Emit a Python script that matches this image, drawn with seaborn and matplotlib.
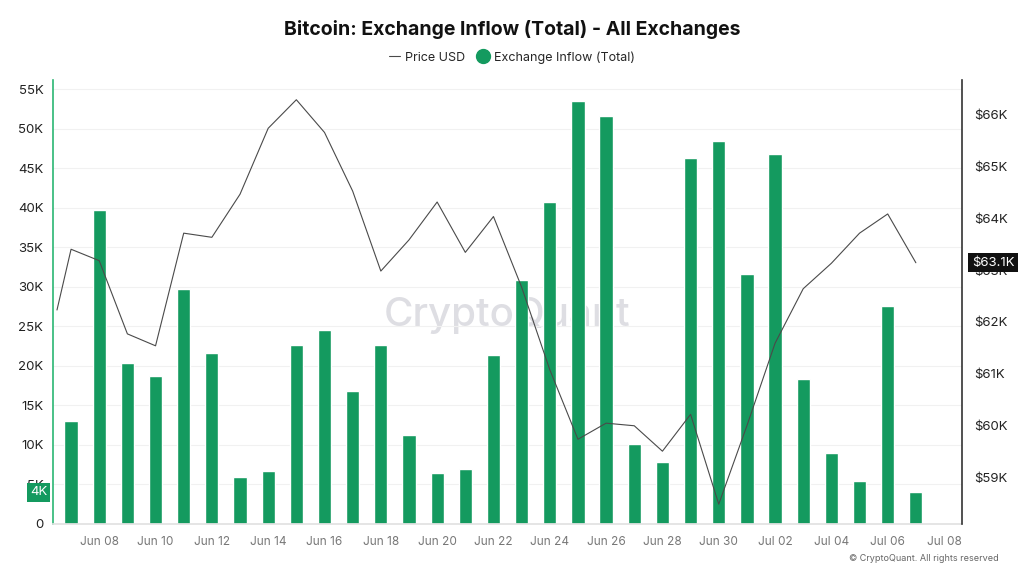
import pandas as pd
import matplotlib.pyplot as plt
from matplotlib.lines import Line2D
from matplotlib.ticker import FuncFormatter
import seaborn as sns

# days counted from Jun 07
days = list(range(31))
inflow_k = [13.0, 39.8, 20.4, 18.7, 29.8, 21.6, 6.0, 6.7, 22.6, 24.5,
            16.8, 22.6, 11.3, 6.5, 7.0, 21.4, 30.9, 40.8, 53.5, 51.6,
            10.1, 7.8, 46.3, 48.5, 31.6, 46.8, 18.4, 9.0, 5.5, 27.6, 4.0]
price_days = [-0.5] + days
price_k = [62.23, 63.40, 63.18, 61.77, 61.54, 63.71, 63.63, 64.46, 65.73, 66.28,
           65.65, 64.52, 62.98, 63.58, 64.31, 63.34, 64.03, 62.67, 61.08, 59.74,
           60.05, 60.00, 59.51, 60.22, 58.49, 60.00, 61.59, 62.64, 63.13, 63.71,
           64.08, 63.14]
tick_days = list(range(1, 32, 2))
tick_labels = ['Jun 08', 'Jun 10', 'Jun 12', 'Jun 14', 'Jun 16', 'Jun 18', 'Jun 20',
               'Jun 22', 'Jun 24', 'Jun 26', 'Jun 28', 'Jun 30', 'Jul 02', 'Jul 04',
               'Jul 06', 'Jul 08']

green = '#149a5f'
bars = pd.DataFrame({'day': days, 'inflow': [v * 1000 for v in inflow_k]})
price = pd.DataFrame({'day': price_days, 'price': [v * 1000 for v in price_k]})

sns.set_theme(style='white')
plt.rcParams['font.family'] = ['Inter', 'DejaVu Sans']

fig = plt.figure(figsize=(10.24, 5.76), dpi=100)
ax = fig.add_axes([0.0518, 0.0903, 0.8877, 0.7708])

sns.barplot(data=bars, x='day', y='inflow', native_scale=True, width=0.47,
            color=green, saturation=1, errorbar=None, ax=ax, zorder=2)
ax.set_ylim(0, 56200)
ax.set_yticks(range(0, 55001, 5000))
ax.yaxis.set_major_formatter(FuncFormatter(lambda v, p: '0' if v == 0 else f'{v/1000:.0f}K'))
ax.grid(axis='y', color='#f1f1f1', lw=0.8)
ax.set_axisbelow(True)
ax.set_xlabel('')
ax.set_ylabel('')
ax.tick_params(axis='y', length=0, pad=7, labelsize=9.5, labelcolor='#222222')
ax.tick_params(axis='x', length=3.5, width=0.8, color='#dddddd', pad=5,
               labelsize=8.5, labelcolor='#777777')
# watermark
ax.text(0.5, 0.47, 'CryptoQuant', transform=ax.transAxes, ha='center', va='center',
        fontsize=29, fontweight='medium', color='#dedee3', zorder=0)

ax2 = ax.twinx()
sns.lineplot(data=price, x='day', y='price', ax=ax2, color='#4a4a4a', lw=0.8)
ax2.set_ylim(58108, 66660)
ax2.set_yticks(range(59000, 66001, 1000))
ax2.yaxis.set_major_formatter(FuncFormatter(lambda v, p: f'${v/1000:.0f}K'))
ax2.set_ylabel('')
ax2.tick_params(axis='y', length=0, pad=9, labelsize=9.5, labelcolor='#222222')

ax.set_xlim(-0.64, 31.64)
ax.set_xticks(tick_days)
ax.set_xticklabels(tick_labels)

for a in (ax, ax2):
    a.spines['top'].set_visible(False)
ax.spines['right'].set_visible(False)
ax2.spines['left'].set_visible(False)
ax2.spines['bottom'].set_visible(False)
ax.spines['left'].set_color('#2bb673')
ax.spines['left'].set_linewidth(1.2)
ax2.spines['right'].set_color('#333333')
ax2.spines['right'].set_linewidth(1.2)
ax.spines['bottom'].set_color('#e2e2e2')

# highlighted last values (they sit over the axis labels, as in the original)
ax.annotate('4K', xy=(-0.016, inflow_k[-1] * 1000), xycoords=('axes fraction', 'data'),
            ha='center', va='center', fontsize=9.5, color='white',
            bbox=dict(boxstyle='square,pad=0.25', fc=green, ec='none'))
ax2.annotate(f'${price_k[-1]:.1f}K', xy=(1.034, price_k[-1] * 1000),
             xycoords=('axes fraction', 'data'), ha='center', va='center',
             fontsize=9.5, color='white', annotation_clip=False,
             bbox=dict(boxstyle='square,pad=0.25', fc='#111111', ec='none'))

fig.text(0.5, 0.948, 'Bitcoin: Exchange Inflow (Total) - All Exchanges',
         ha='center', va='center', fontsize=14, fontweight='bold', color='#111111')
handles = [Line2D([], [], color='#4a4a4a', lw=0.8),
           Line2D([], [], color=green, marker='o', ls='none', markersize=10)]
fig.legend(handles, ['Price USD', 'Exchange Inflow (Total)'], loc='center',
           bbox_to_anchor=(0.5, 0.9), ncol=2, frameon=False, fontsize=9,
           handlelength=0.9, handletextpad=0.4, columnspacing=1.0)
fig.text(0.975, 0.031, '© CryptoQuant. All rights reserved', ha='right', va='center',
         fontsize=6.5, color='#666666')

fig.savefig('out.png', dpi=100)
